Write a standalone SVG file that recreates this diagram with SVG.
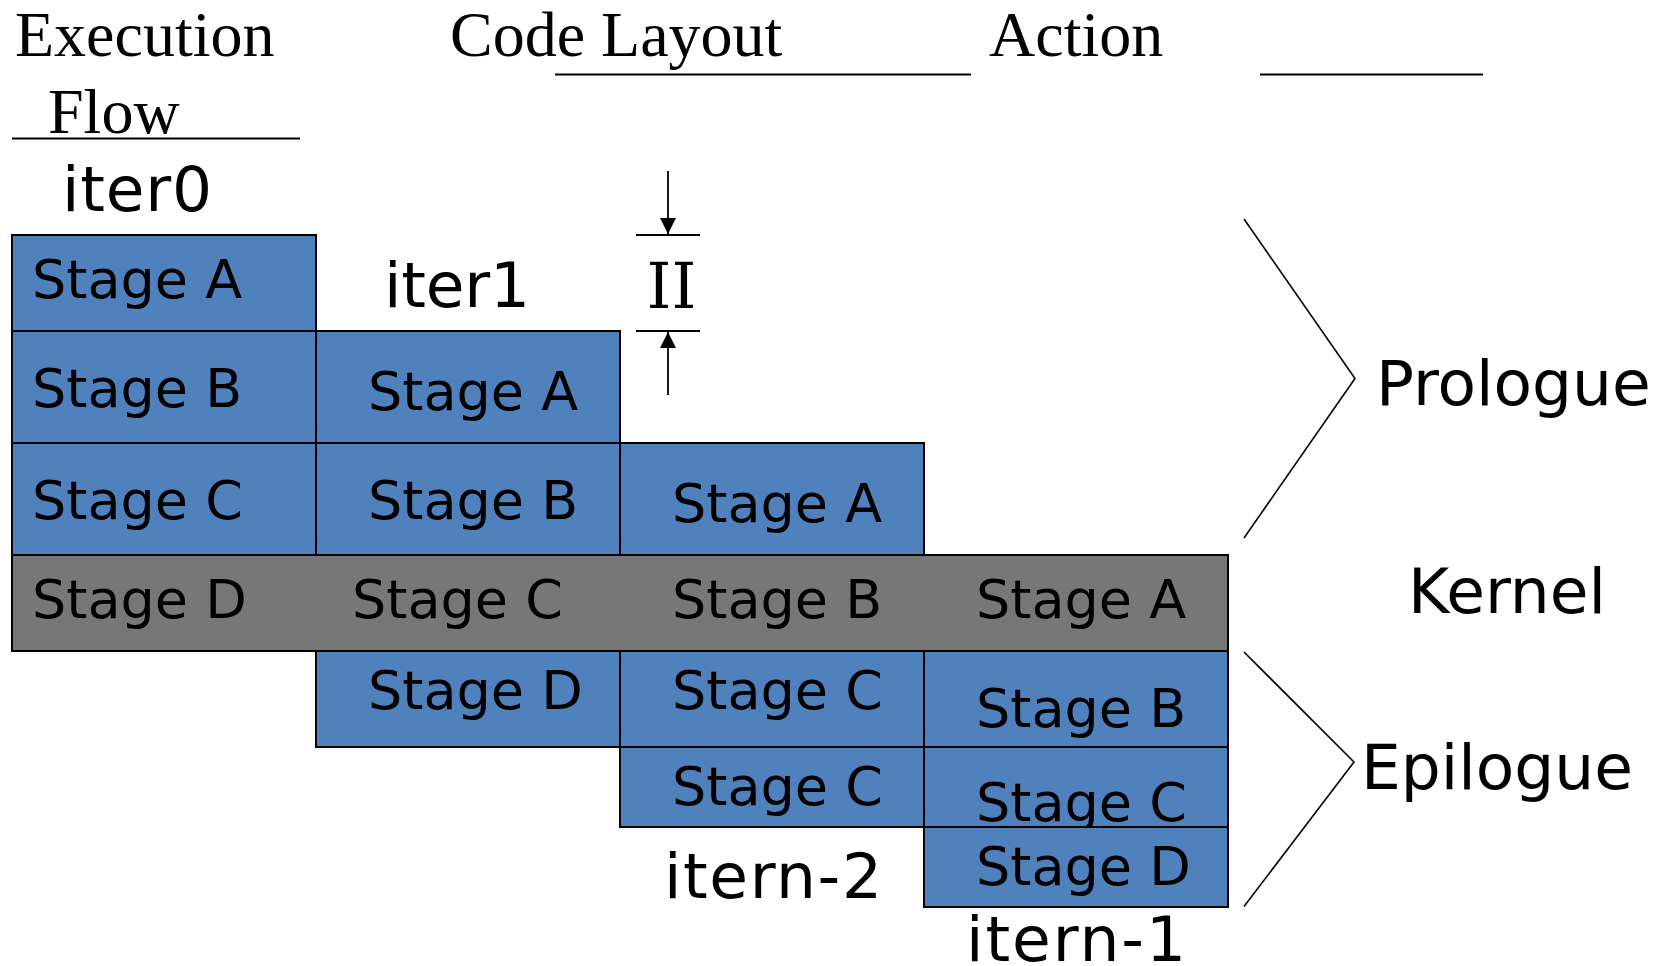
<svg xmlns="http://www.w3.org/2000/svg" width="1672" height="966" viewBox="0 0 1672 966">
  <style>
    .stage { fill: #4F81BD; stroke: #000; stroke-width: 2; }
    .kern { fill: #777777; stroke: #000; stroke-width: 2; }
    .lbl { font-family: "DejaVu Sans", Verdana, sans-serif; font-size: 54px; fill: #000; }
    .big { font-family: "DejaVu Sans", Verdana, sans-serif; font-size: 63px; fill: #000; }
    .hdr { font-family: "Liberation Serif", "Times New Roman", serif; font-size: 64px; fill: #000; }
    .rule { stroke: #000; stroke-width: 2; fill: none; }
    .brace { stroke: #000; stroke-width: 1.6; fill: none; }
  </style>
  <defs>
    <marker id="head" markerUnits="userSpaceOnUse" markerWidth="16" markerHeight="16" refX="16" refY="8" orient="auto">
      <path d="M0,0 L16,8 L0,16 Z" fill="#000"/>
    </marker>
  </defs>

  <rect width="1672" height="966" fill="#fff"/>

  <!-- column headings -->
  <g id="headings">
    <text class="hdr" x="15" y="56">Execution</text>
    <text class="hdr" x="48" y="133">Flow</text>
    <line class="rule" x1="12" y1="138.5" x2="300" y2="138.5"/>
    <text class="hdr" x="450" y="56">Code Layout</text>
    <line class="rule" x1="555" y1="74.5" x2="971" y2="74.5"/>
    <text class="hdr" x="989" y="56">Action</text>
    <line class="rule" x1="1260" y1="74.5" x2="1483" y2="74.5"/>
  </g>

  <!-- iteration labels -->
  <g id="iter-labels">
    <text class="big" x="62" y="211" textLength="150">iter0</text>
    <text class="big" x="384" y="307" textLength="146">iter1</text>
    <text class="big" x="664" y="898" textLength="218">itern-2</text>
    <text class="big" x="966" y="961" textLength="220">itern-1</text>
  </g>

  <!-- iteration 0 -->
  <g id="it0-a"><rect class="stage" x="12" y="235" width="304" height="96"/><text class="lbl" x="32" y="298">Stage A</text></g>
  <g id="it0-b"><rect class="stage" x="12" y="331" width="304" height="112"/><text class="lbl" x="32" y="407">Stage B</text></g>
  <g id="it0-c"><rect class="stage" x="12" y="443" width="304" height="112"/><text class="lbl" x="32" y="519">Stage C</text></g>

  <!-- iteration 1 -->
  <g id="it1-a"><rect class="stage" x="316" y="331" width="304" height="112"/><text class="lbl" x="368" y="410">Stage A</text></g>
  <g id="it1-b"><rect class="stage" x="316" y="443" width="304" height="112"/><text class="lbl" x="368" y="519">Stage B</text></g>
  <g id="it1-d"><rect class="stage" x="316" y="651" width="304" height="96"/><text class="lbl" x="368" y="709">Stage D</text></g>

  <!-- iteration n-2 -->
  <g id="itn2-a"><rect class="stage" x="620" y="443" width="304" height="112"/><text class="lbl" x="672" y="522">Stage A</text></g>
  <g id="itn2-c"><rect class="stage" x="620" y="651" width="304" height="96"/><text class="lbl" x="672" y="709">Stage C</text></g>
  <g id="itn2-c2"><rect class="stage" x="620" y="747" width="304" height="80"/><text class="lbl" x="672" y="805">Stage C</text></g>

  <!-- iteration n-1 -->
  <g id="itn1-b"><rect class="stage" x="924" y="651" width="304" height="96"/><text class="lbl" x="976" y="727">Stage B</text></g>
  <g id="itn1-c"><rect class="stage" x="924" y="747" width="304" height="80"/><text class="lbl" x="976" y="821">Stage C</text></g>
  <g id="itn1-d"><rect class="stage" x="924" y="827" width="304" height="80"/><text class="lbl" x="976" y="885">Stage D</text></g>

  <!-- steady-state kernel row -->
  <g id="kernel">
    <rect class="kern" x="12" y="555" width="1216" height="96"/>
    <text class="lbl" x="32" y="618">Stage D</text>
    <text class="lbl" x="352" y="618">Stage C</text>
    <text class="lbl" x="672" y="618">Stage B</text>
    <text class="lbl" x="976" y="618">Stage A</text>
  </g>

  <!-- initiation interval marker -->
  <g id="ii">
    <line class="rule" x1="636" y1="235" x2="700" y2="235"/>
    <line class="rule" x1="636" y1="331" x2="700" y2="331"/>
    <text x="671.5" y="308" text-anchor="middle" font-family="DejaVu Serif, serif" font-size="63">II</text>
  </g>

  <!-- connectors -->
  <g id="connectors">
    <line x1="668" y1="171" x2="668" y2="234" stroke="#000" stroke-width="1.8" marker-end="url(#head)"/>
    <line x1="668" y1="395" x2="668" y2="332" stroke="#000" stroke-width="1.8" marker-end="url(#head)"/>
    <polyline class="brace" points="1244,219 1355,378.5 1244,538"/>
    <polyline class="brace" points="1244,652 1354,762 1244,906.5"/>
  </g>

  <!-- phase names -->
  <g id="phases">
    <text class="big" x="1376" y="405">Prologue</text>
    <text class="big" x="1408" y="613">Kernel</text>
    <text class="big" x="1361" y="789">Epilogue</text>
  </g>
</svg>
